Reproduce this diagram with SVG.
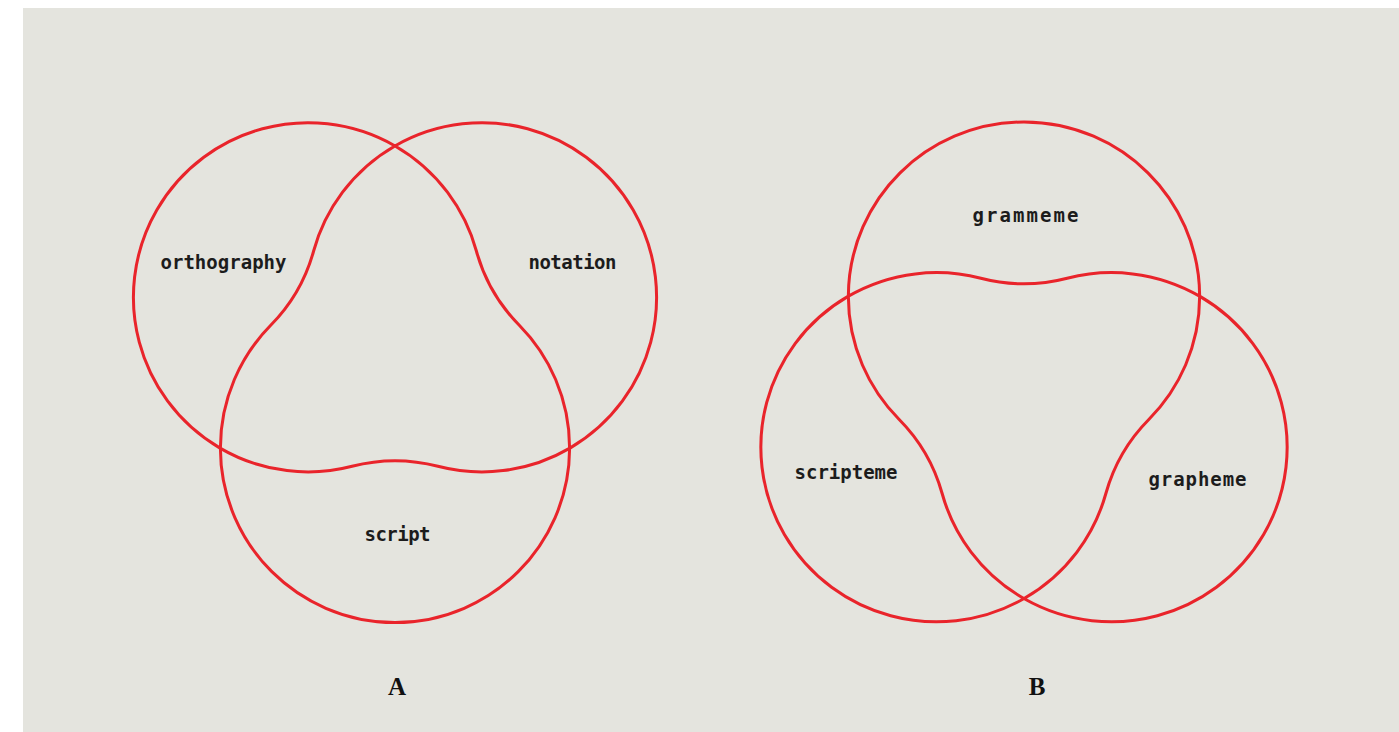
<svg xmlns="http://www.w3.org/2000/svg" xmlns:xlink="http://www.w3.org/1999/xlink" width="1399" height="732" viewBox="0 0 1399 732">
  <style>
    .loop { fill: none; stroke: #e9242b; stroke-width: 3; stroke-linejoin: round; }
    .lbl { font-family: "DejaVu Sans Mono", "Liberation Mono", monospace; font-weight: bold; font-size: 19px; fill: #1c1c1c; text-anchor: middle; }
    .cap { font-family: "Liberation Serif", "DejaVu Serif", serif; font-weight: bold; font-size: 25px; fill: #111; text-anchor: middle; }
  </style>
  <defs>
    <!-- three circles (r 174.6) joined into one trefoil loop by concave fillets (r 170) -->
    <path id="trefoil" d="M 81.37 -96.51 A 174.6 174.6 0 1 0 -42.92 118.73 A 170 170 0 0 1 42.92 118.73 A 174.6 174.6 0 1 0 -81.37 -96.51 A 170 170 0 0 1 -124.29 -22.19 A 174.6 174.6 0 1 0 124.29 -22.19 A 170 170 0 0 1 81.37 -96.51 Z"/>
  </defs>

  <rect x="0" y="0" width="1399" height="732" fill="#ffffff"/>
  <rect x="23" y="8" width="1376" height="724" fill="#e4e4de"/>

  <g id="connectors">
    <use xlink:href="#trefoil" class="loop" transform="translate(395 347.5)"/>
    <use xlink:href="#trefoil" class="loop" transform="translate(1024 397) scale(1.006 -1)"/>
  </g>

  <g id="diagram-a">
    <g id="orthography"><text class="lbl" x="223.5" y="269" textLength="126" lengthAdjust="spacing">orthography</text></g>
    <g id="notation"><text class="lbl" x="572.5" y="269" textLength="88" lengthAdjust="spacing">notation</text></g>
    <g id="script"><text class="lbl" x="397.5" y="541" textLength="66" lengthAdjust="spacing">script</text></g>
    <text class="cap" x="397" y="695">A</text>
  </g>

  <g id="diagram-b">
    <g id="grammeme"><text class="lbl" x="1025.5" y="222" textLength="106" lengthAdjust="spacing">grammeme</text></g>
    <g id="scripteme"><text class="lbl" x="846" y="479" textLength="103" lengthAdjust="spacing">scripteme</text></g>
    <g id="grapheme"><text class="lbl" x="1197.5" y="486" textLength="98" lengthAdjust="spacing">grapheme</text></g>
    <text class="cap" x="1037" y="695">B</text>
  </g>
</svg>
